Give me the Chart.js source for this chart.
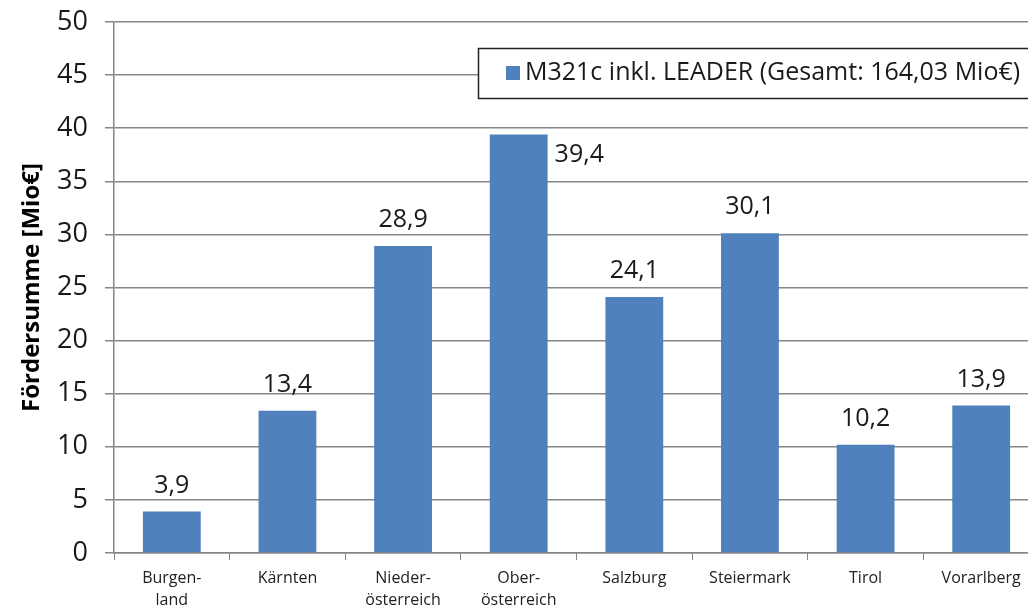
<!DOCTYPE html>
<html>
<head>
<meta charset="utf-8">
<script src="https://cdn.jsdelivr.net/npm/chart.js@4/dist/chart.umd.min.js"></script>
<style>
  html, body { margin: 0; padding: 0; background: #fff; overflow: hidden; }
  #wrap { width: 1040px; height: 608px; }
</style>
</head>
<body>
<div id="wrap"><canvas id="chart" width="1040" height="608"></canvas></div>
<script>
var categories = [["Burgen-", "land"], "Kärnten", ["Nieder-", "österreich"], ["Ober-", "österreich"], "Salzburg", "Steiermark", "Tirol", "Vorarlberg"];
var values = [3.9, 13.4, 28.9, 39.4, 24.1, 30.1, 10.2, 13.9];
var seriesName = "M321c inkl. LEADER (Gesamt: 164,03 Mio€)";
var yTicks = [0, 5, 10, 15, 20, 25, 30, 35, 40, 45, 50];

var fontFam = "'Open Sans', 'Liberation Sans', sans-serif";

// draws value labels above the bars (the tallest one goes beside the bar)
var valueLabels = {
  id: "valueLabels",
  afterDatasetsDraw: function (chart) {
    var ctx = chart.ctx;
    var meta = chart.getDatasetMeta(0);
    ctx.save();
    ctx.font = "25px " + fontFam;
    ctx.fillStyle = "#1a1a1a";
    meta.data.forEach(function (bar, i) {
      var txt = values[i].toFixed(1).replace(".", ",");
      if (i == 3) {
        ctx.textAlign = "left";
        ctx.textBaseline = "middle";
        ctx.fillText(txt, bar.x + bar.width / 2 + 7, bar.y + 20);
      } else {
        ctx.textAlign = "center";
        ctx.textBaseline = "middle";
        ctx.fillText(txt, bar.x, bar.y - 26);
      }
    });
    ctx.restore();
  }
};

// legend box drawn over the plot, like the original
var boxLegend = {
  id: "boxLegend",
  afterDraw: function (chart) {
    var ctx = chart.ctx;
    var ds = chart.data.datasets[0];
    ctx.save();
    ctx.fillStyle = "#fff";
    ctx.fillRect(478, 48, 580, 50);
    ctx.strokeStyle = "#222";
    ctx.lineWidth = 1.5;
    ctx.strokeRect(478.5, 48.5, 580, 50);
    ctx.fillStyle = ds.backgroundColor;
    ctx.fillRect(506, 66, 14, 14);
    ctx.font = "25px " + fontFam;
    ctx.fillStyle = "#1a1a1a";
    ctx.textAlign = "left";
    ctx.textBaseline = "middle";
    ctx.fillText(ds.label, 525, 73);
    ctx.restore();
  }
};

new Chart(document.getElementById("chart"), {
  type: "bar",
  data: {
    labels: categories,
    datasets: [{
      label: seriesName,
      data: values,
      backgroundColor: "#4f81bd",
      borderWidth: 0,
      barPercentage: 0.5,
      categoryPercentage: 1.0
    }]
  },
  options: {
    responsive: false,
    animation: false,
    layout: { padding: { top: 22, right: 1, left: 0, bottom: 0 } },
    plugins: {
      legend: { display: false },
      tooltip: { enabled: false }
    },
    scales: {
      x: {
        grid: { display: true, drawOnChartArea: false, color: "#868686", tickLength: 7, offset: true },
        border: { color: "#868686", width: 1.5 },
        ticks: { font: { family: fontFam, size: 16, lineHeight: 1.35 }, color: "#222", padding: 8, maxRotation: 0, autoSkip: false },
        afterFit: function (scale) { scale.height = 55; scale.paddingLeft = 0; scale.paddingRight = 0; }
      },
      y: {
        min: 0,
        max: 50,
        afterBuildTicks: function (scale) { scale.ticks = yTicks.map(function (v) { return { value: v }; }); },
        grid: { color: "#868686", lineWidth: 1.5, tickLength: 9 },
        border: { color: "#868686", width: 1.5 },
        ticks: { font: { family: fontFam, size: 27 }, color: "#1a1a1a", padding: 17 },
        title: {
          display: true,
          text: "Fördersumme [Mio€]",
          font: { family: fontFam, size: 24, weight: "bold" },
          color: "#000",
          padding: { top: 18, bottom: 0 }
        },
        afterFit: function (scale) { scale.width = 114; scale.paddingTop = 0; scale.paddingBottom = 0; }
      }
    }
  },
  plugins: [valueLabels, boxLegend]
});
</script>
</body>
</html>
